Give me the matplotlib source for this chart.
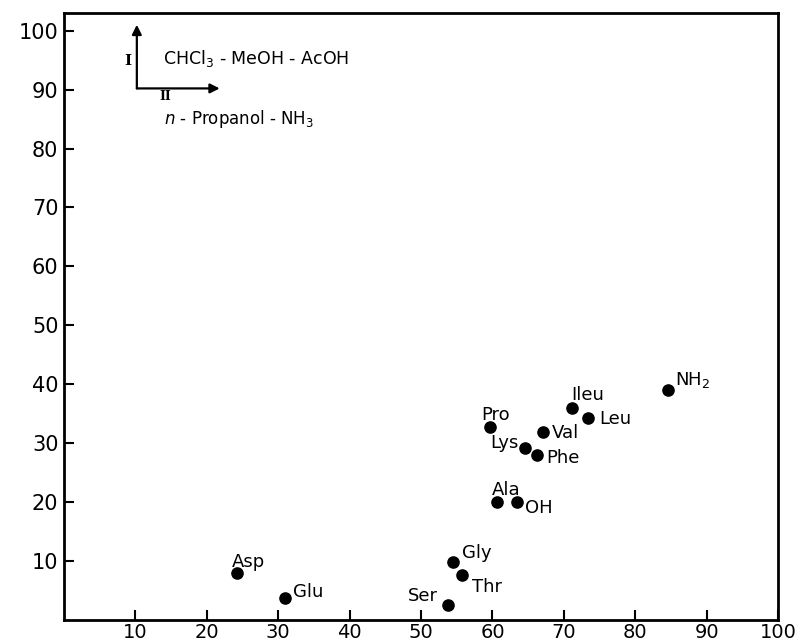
"""Two-dimensional TLC map of amino acids (Rf x 100)."""
import matplotlib.pyplot as plt

# solvent II (n-propanol - NH3) on x, solvent I (CHCl3 - MeOH - AcOH) on y
names = ["Asp", "Glu", "Gly", "Thr", "Ser", "Pro", "Val", "Lys", "Phe",
         "Ileu", "Leu", "Ala", "OH", "NH$_2$"]
rf_II = [24.2, 31.0, 54.5, 55.7, 53.8, 59.7, 67.1, 64.6, 66.2,
         71.1, 73.4, 60.6, 63.4, 84.6]
rf_I = [8.0, 3.7, 9.8, 7.6, 2.5, 32.8, 31.9, 29.2, 28.0,
        36.0, 34.3, 20.0, 20.0, 39.0]
ticks = [10, 20, 30, 40, 50, 60, 70, 80, 90, 100]

plt.rcParams['font.family'] = ['DejaVu Sans']
plt.rcParams['mathtext.fontset'] = 'dejavusans'

fig = plt.figure(figsize=(8.03, 6.43), dpi=100)
ax = fig.add_axes([0.0797, 0.0358, 0.8893, 0.944])

ax.scatter(rf_II, rf_I, s=65, color='black', zorder=3)

# label placement (pixel offsets from the spot, alignment)
place = {
    "Asp": (-5, 11, 'left'),
    "Glu": (8, 6, 'left'),
    "Gly": (9, 9, 'left'),
    "Thr": (10, -12, 'left'),
    "Ser": (-10, 9, 'right'),
    "Pro": (5, 12, 'center'),
    "Val": (9, -1, 'left'),
    "Lys": (-7, 5, 'right'),
    "Phe": (10, -3, 'left'),
    "Ileu": (0, 13, 'left'),
    "Leu": (11, -1, 'left'),
    "Ala": (-5, 12, 'left'),
    "OH": (8, -6, 'left'),
    "NH$_2$": (7, 10, 'left'),
}
for name, x, y in zip(names, rf_II, rf_I):
    dx, dy, ha = place[name]
    ax.annotate(name, (x, y), xytext=(dx, dy), textcoords='offset pixels',
                ha=ha, va='center', fontsize=13)

# solvent direction key
ax.annotate('', xy=(10.2, 101), xytext=(10.2, 90.2),
            arrowprops=dict(arrowstyle='-|>', color='black', lw=1.6,
                            mutation_scale=14, shrinkA=0, shrinkB=0))
ax.annotate('', xy=(21.8, 90.2), xytext=(10.2, 90.2),
            arrowprops=dict(arrowstyle='-|>', color='black', lw=1.6,
                            mutation_scale=14, shrinkA=0, shrinkB=0))
ax.text(9.0, 94.8, 'I', family='DejaVu Serif', fontweight='bold',
        fontsize=11, ha='center', va='center')
ax.text(14.2, 88.9, 'II', family='DejaVu Serif', fontweight='bold',
        fontsize=9, ha='center', va='center')
ax.text(13.8, 95.2, 'CHCl$_3$ - MeOH - AcOH', fontsize=12.5, va='center')
ax.text(14.0, 85.0, '$n$ - Propanol - NH$_3$', fontsize=12, va='center')

ax.set_xlim(0, 100)
ax.set_ylim(0, 103)
ax.set_xticks(ticks)
ax.set_yticks(ticks)
ax.tick_params(direction='in', length=7, width=1.5, labelsize=15, pad=4)
ax.tick_params(axis='x', labelsize=14, pad=2)
for sp in ax.spines.values():
    sp.set_linewidth(2)

fig.savefig('out.png', dpi=100)
